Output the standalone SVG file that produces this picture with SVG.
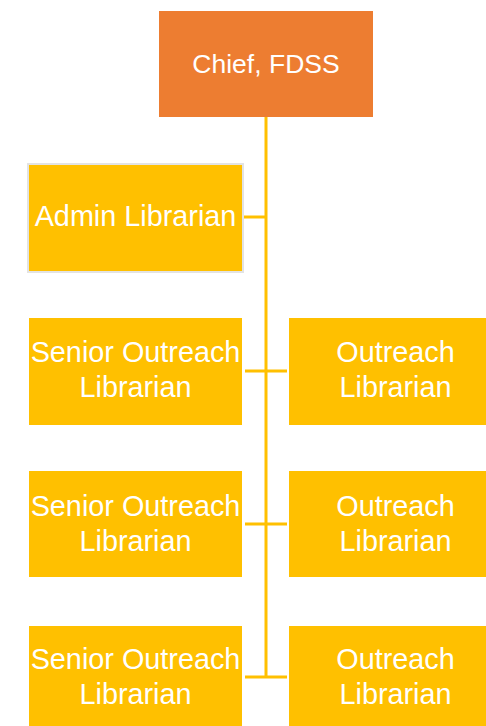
<svg xmlns="http://www.w3.org/2000/svg" width="486" height="726" viewBox="0 0 486 726">
<style>
.box{fill:#FFC000}
.t{font-family:"Liberation Sans",Arial,sans-serif;font-size:28.8px;fill:#FFFFFF;text-anchor:middle}
.c{stroke:#FFC000;stroke-width:3;fill:none}
</style>
<rect width="486" height="726" fill="#FFFFFF"/>
<g id="connectors">
<line class="c" x1="266" y1="117" x2="266" y2="678"/>
<line class="c" x1="243" y1="217" x2="266" y2="217"/>
<line class="c" x1="245" y1="371" x2="287" y2="371"/>
<line class="c" x1="245" y1="524" x2="287" y2="524"/>
<line class="c" x1="245" y1="677" x2="287" y2="677"/>
</g>
<g id="chief">
<rect x="159" y="11" width="214" height="106" fill="#ED7D31"/>
<text class="t" x="266" y="73" style="font-size:26.5px">Chief, FDSS</text>
</g>
<g id="admin">
<rect x="28" y="164" width="215" height="108" class="box" stroke="#E3E3E3" stroke-width="2"/>
<text class="t" x="135.5" y="226">Admin Librarian</text>
</g>
<g id="senior1">
<rect x="29" y="318" width="213" height="107" class="box"/>
<text class="t" x="135.5" y="362">Senior Outreach</text>
<text class="t" x="135.5" y="397">Librarian</text>
</g>
<g id="outreach1">
<rect x="289" y="318" width="213" height="107" class="box"/>
<text class="t" x="395.5" y="362">Outreach</text>
<text class="t" x="395.5" y="397">Librarian</text>
</g>
<g id="senior2">
<rect x="29" y="471" width="213" height="106" class="box"/>
<text class="t" x="135.5" y="516">Senior Outreach</text>
<text class="t" x="135.5" y="551">Librarian</text>
</g>
<g id="outreach2">
<rect x="289" y="471" width="213" height="106" class="box"/>
<text class="t" x="395.5" y="516">Outreach</text>
<text class="t" x="395.5" y="551">Librarian</text>
</g>
<g id="senior3">
<rect x="29" y="626" width="213" height="106" class="box"/>
<text class="t" x="135.5" y="669">Senior Outreach</text>
<text class="t" x="135.5" y="704">Librarian</text>
</g>
<g id="outreach3">
<rect x="289" y="626" width="213" height="106" class="box"/>
<text class="t" x="395.5" y="669">Outreach</text>
<text class="t" x="395.5" y="704">Librarian</text>
</g>
</svg>
